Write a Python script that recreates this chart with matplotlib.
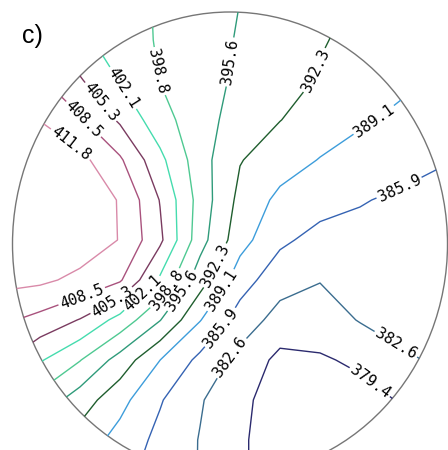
import numpy as np
import matplotlib
matplotlib.use("Agg")
import matplotlib.pyplot as plt
from matplotlib.patches import Ellipse

plt.rcParams['font.family'] = 'DejaVu Sans Mono'

# contour levels and their line colours (low -> high)
levels = [379.4, 382.6, 385.9, 389.1, 392.3, 395.6, 398.8, 402.1, 405.3, 408.5, 411.8]
line_colors = ['#2b2a6e', '#3b6d8f', '#3563b3', '#3d9ddb', '#1f5e2e', '#2f9b7a',
               '#4fc992', '#45dcae', '#7a3b60', '#a9527d', '#d98aa9']

# measurement grid (positions across the wafer, image units)
x_grid = [0, 40, 80, 120, 160, 200, 240, 280, 320, 360, 400, 440, 480]
y_grid = [0, 40, 80, 120, 160, 200, 240, 280, 320, 360, 400, 440, 480]

# values, one row per y_grid entry
z_rows = [
    [405.58, 403.41, 401.53, 400.01, 398.48, 397.03, 395.60, 394.30, 393.01, 391.97, 391.23, 390.45, 389.70],
    [408.88, 405.58, 402.86, 400.52, 398.45, 396.90, 395.34, 393.95, 392.52, 391.55, 390.61, 389.67, 388.80],
    [411.15, 408.85, 405.58, 401.92, 398.71, 396.83, 395.05, 393.49, 392.04, 390.84, 389.67, 388.80, 388.15],
    [412.77, 411.75, 408.92, 404.83, 400.14, 396.73, 394.37, 392.36, 390.90, 389.44, 388.57, 387.89, 387.18],
    [413.74, 413.42, 412.77, 408.95, 402.95, 396.93, 392.46, 390.61, 388.96, 388.05, 387.14, 386.04, 385.23],
    [413.74, 413.74, 413.42, 411.64, 405.16, 397.51, 391.39, 388.31, 387.18, 386.11, 385.39, 385.33, 385.23],
    [414.07, 413.74, 413.74, 411.67, 405.97, 396.90, 390.29, 386.53, 384.81, 384.91, 384.75, 384.65, 384.58],
    [412.77, 412.45, 410.99, 408.88, 401.59, 393.72, 387.34, 383.94, 382.74, 383.87, 383.97, 383.97, 383.94],
    [409.21, 407.46, 405.13, 400.91, 395.73, 389.25, 384.45, 381.34, 380.89, 382.80, 383.16, 383.32, 383.29],
    [405.97, 402.44, 398.94, 394.30, 389.12, 385.10, 381.54, 378.59, 379.08, 379.89, 382.32, 382.83, 382.96],
    [400.46, 397.64, 393.98, 390.12, 386.17, 382.90, 380.05, 378.10, 377.62, 378.43, 379.56, 381.02, 381.99],
    [397.22, 393.82, 390.93, 387.95, 385.04, 382.45, 379.85, 377.78, 377.29, 377.78, 378.75, 380.05, 381.02],
    [394.95, 392.04, 389.12, 386.69, 384.52, 382.45, 379.85, 377.78, 377.13, 377.46, 378.43, 379.50, 380.37],
]

# where each level gets its labels
label_pos = {
    379.4: [(369, 383)],
    382.6: [(396, 344), (230, 357)],
    385.9: [(398, 185), (220, 327)],
    389.1: [(372, 117), (225, 293)],
    392.3: [(313, 70), (216, 266)],
    395.6: [(230, 62), (181, 290)],
    398.8: [(155, 72), (165, 288)],
    402.1: [(123, 88), (142, 293)],
    405.3: [(103, 100), (112, 301)],
    408.5: [(85, 118), (82, 297)],
    411.8: [(70, 145)],
}

wafer_center = (230, 244)
wafer_w, wafer_h = 435, 464

fig = plt.figure(figsize=(4.48, 4.50), dpi=100)
ax = fig.add_axes([0, 0, 1, 1])
ax.set_xlim(0, 448)
ax.set_ylim(450, 0)
ax.axis('off')

X, Y = np.meshgrid(x_grid, y_grid)
Z = np.array(z_rows)

# one contour set per level so each label lands on its own line
for lev, col in zip(levels, line_colors):
    cs = ax.contour(X, Y, Z, levels=[lev], colors=[col], linewidths=1.0)
    cs.set_clip_path(Ellipse(wafer_center, wafer_w, wafer_h, transform=ax.transData))
    cs.clabel(fmt='%.1f', fontsize=11, colors='black', inline=True,
              inline_spacing=2, manual=label_pos[lev])

ax.add_patch(Ellipse(wafer_center, wafer_w, wafer_h, fill=False,
                     edgecolor='#767676', linewidth=1.0))

fig.text(22 / 448, 1 - 43 / 450, 'c)', fontsize=18, family='Liberation Sans',
         ha='left', va='baseline')

fig.savefig('out.png', dpi=100)
